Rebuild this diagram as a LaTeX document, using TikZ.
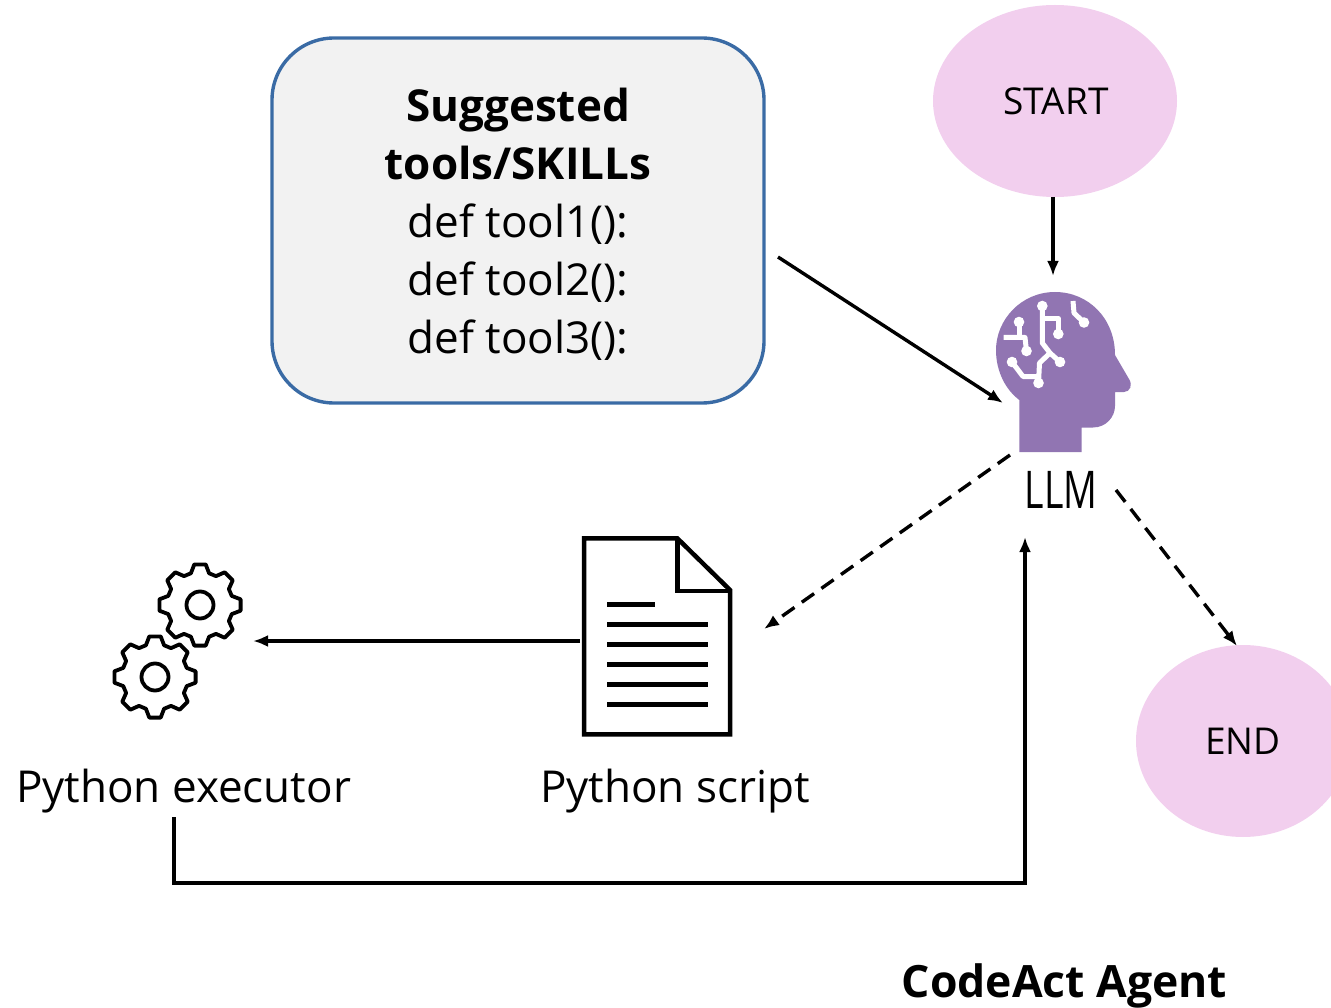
\documentclass[tikz,border=0pt]{standalone}
\usepackage{fontspec}
\setmainfont{Open Sans}
\usetikzlibrary{shapes.geometric, arrows.meta}
\definecolor{pinkfill}{HTML}{F2CFEE}
\definecolor{headfill}{HTML}{9175B2}
\definecolor{boxfill}{HTML}{F2F2F2}
\definecolor{boxline}{HTML}{3A6BA5}
\tikzset{
    blob/.style={ellipse, fill=pinkfill, inner sep=0pt},
    caption/.style={anchor=base, inner sep=0pt, font=\fontsize{44}{50}\selectfont},
    flow/.style={line width=3.4pt, >={Latex[length=15pt, width=12pt]}, ->},
    flowdash/.style={flow, dash pattern=on 15pt off 9pt},
    gearline/.style={line width=3.8pt, line join=round},
    circuit/.style={white, line width=5pt, line join=round},
}
\newcommand{\gearpic}[2]{
    \draw[gearline, shift={(#1,#2)}] (-8:41)
        \foreach \a in {0,45,...,315} {-- (\a-8:41) -- (\a+8:41) -- (\a+16:33) -- (\a+29:33)} -- cycle;
    \draw[gearline] (#1,#2) circle (13.5pt);
}
\begin{document}
\begin{tikzpicture}[x=1pt, y=-1pt]
    \clip (0,0) rectangle (1331,1008);
    \useasboundingbox (0,0) rectangle (1331,1008);
    \node (box) [draw=boxline, fill=boxfill, line width=3.4pt, rounded corners=62pt, minimum width=492pt, minimum height=365pt, align=center, font=\fontsize{44}{58}\selectfont] at (518,220.5) {};
    \node (boxtext) [align=center, inner sep=0pt, font=\fontsize{44}{58}\selectfont] at (518,224) {\textbf{Suggested}\\\textbf{tools/SKILLs}\\def tool1():\\def tool2():\\def tool3():};
    \node (start) [blob, minimum width=244pt, minimum height=192pt] at (1055,101) {};
    \node (stop) [blob, minimum width=214pt, minimum height=192pt] at (1243,741) {};
    \node (starttext) [anchor=base, inner sep=0pt, font=\fontsize{37}{42}\selectfont] at (1056,115) {START};
    \node (stoptext) [anchor=base, inner sep=0pt, font=\fontsize{37}{42}\selectfont] at (1243,754) {END};

    \fill[headfill] (1019.3,452) -- (1081.7,452) -- (1081.7,427.5) -- (1093,427.5)
        .. controls (1106,427.5) and (1115,417) .. (1115,406) -- (1115,392) -- (1124,392)
        .. controls (1130,392) and (1133,385) .. (1129,379) -- (1115,355)
        .. controls (1115,318) and (1088,292) .. (1055,292)
        .. controls (1021,292) and (996,320) .. (996,350)
        .. controls (996,372) and (1006,390) .. (1019.3,400) -- cycle;
    \draw[circuit] (1042.3,306) -- (1042.3,343) -- (1050,353) -- (1060,362);
    \draw[circuit] (1042.3,318.5) -- (1058.3,318.5) -- (1058.3,333);
    \draw[circuit] (1050,353) -- (1039.5,363) -- (1038.5,383);
    \draw[circuit] (1012,362) -- (1023,376.5) -- (1038.5,376.5);
    \draw[circuit] (1019,322) -- (1019,337.5);
    \draw[circuit] (1003.5,337.5) -- (1025,337.5) -- (1026.5,351);
    \draw[circuit] (1073,301) -- (1074,313) -- (1084,322.5);
    \foreach \x/\y in {1042.3/306, 1058.3/334, 1060/362, 1038.5/383, 1012/362, 1019/322, 1026.5/351, 1084/322.5}
        \fill[white] (\x,\y) circle (5.3pt);
    \node (head) [inner sep=0pt, minimum width=135pt, minimum height=160pt] at (1063,372) {};
    \node (llm) [anchor=base, inner sep=0pt, xscale=0.72, transform shape, font=\fontsize{52}{60}\selectfont] at (1061,508) {LLM};

    \draw[line width=4.5pt, line join=miter, fill=white] (584,538.3) -- (677.3,538.3) -- (730,590) -- (730,734.3) -- (584,734.3) -- cycle;
    \draw[line width=4.5pt, line join=miter] (677.3,538.3) -- (677.3,591) -- (730,591);
    \draw[line width=5pt] (607,604) -- (655,604);
    \foreach \y in {624,644,664,684,704}
        \draw[line width=5pt] (607,\y) -- (708,\y);
    \node (script) [inner sep=0pt, minimum width=148pt, minimum height=198pt] at (657,636) {};
    \node (scripttext) [caption] at (675,802) {Python script};

    \gearpic{200}{605}
    \gearpic{155}{677}
    \node (gears) [inner sep=0pt, minimum width=130pt, minimum height=160pt] at (178,641) {};
    \node (exectext) [caption] at (183.5,802) {Python executor};

    \node (agent) [anchor=base, inner sep=0pt, font=\fontsize{44.5}{50}\selectfont\bfseries] at (1064.5,997) {CodeAct Agent};

    \coordinate (boxout) at (778,257);
    \coordinate (headtop) at (1053,276);
    \coordinate (headleft) at (1003,403);
    \coordinate (headout) at (1010,455);
    \coordinate (docin) at (764,629);
    \coordinate (llmout) at (1116,490);
    \coordinate (stopin) at (1237,646);
    \coordinate (docout) at (580,641);
    \coordinate (gearin) at (253,641);
    \coordinate (execout) at (174,817);
    \coordinate (llmin) at (1025,537);

    \draw[flow] (1053,197) -- (headtop);
    \draw[flow] (boxout) -- (headleft);
    \draw[flowdash] (headout) -- (docin);
    \draw[flowdash] (llmout) -- (stopin);
    \draw[flow] (docout) -- (gearin);
    \draw[flow] (execout) |- (600,883) -| (llmin);
\end{tikzpicture}
\end{document}
